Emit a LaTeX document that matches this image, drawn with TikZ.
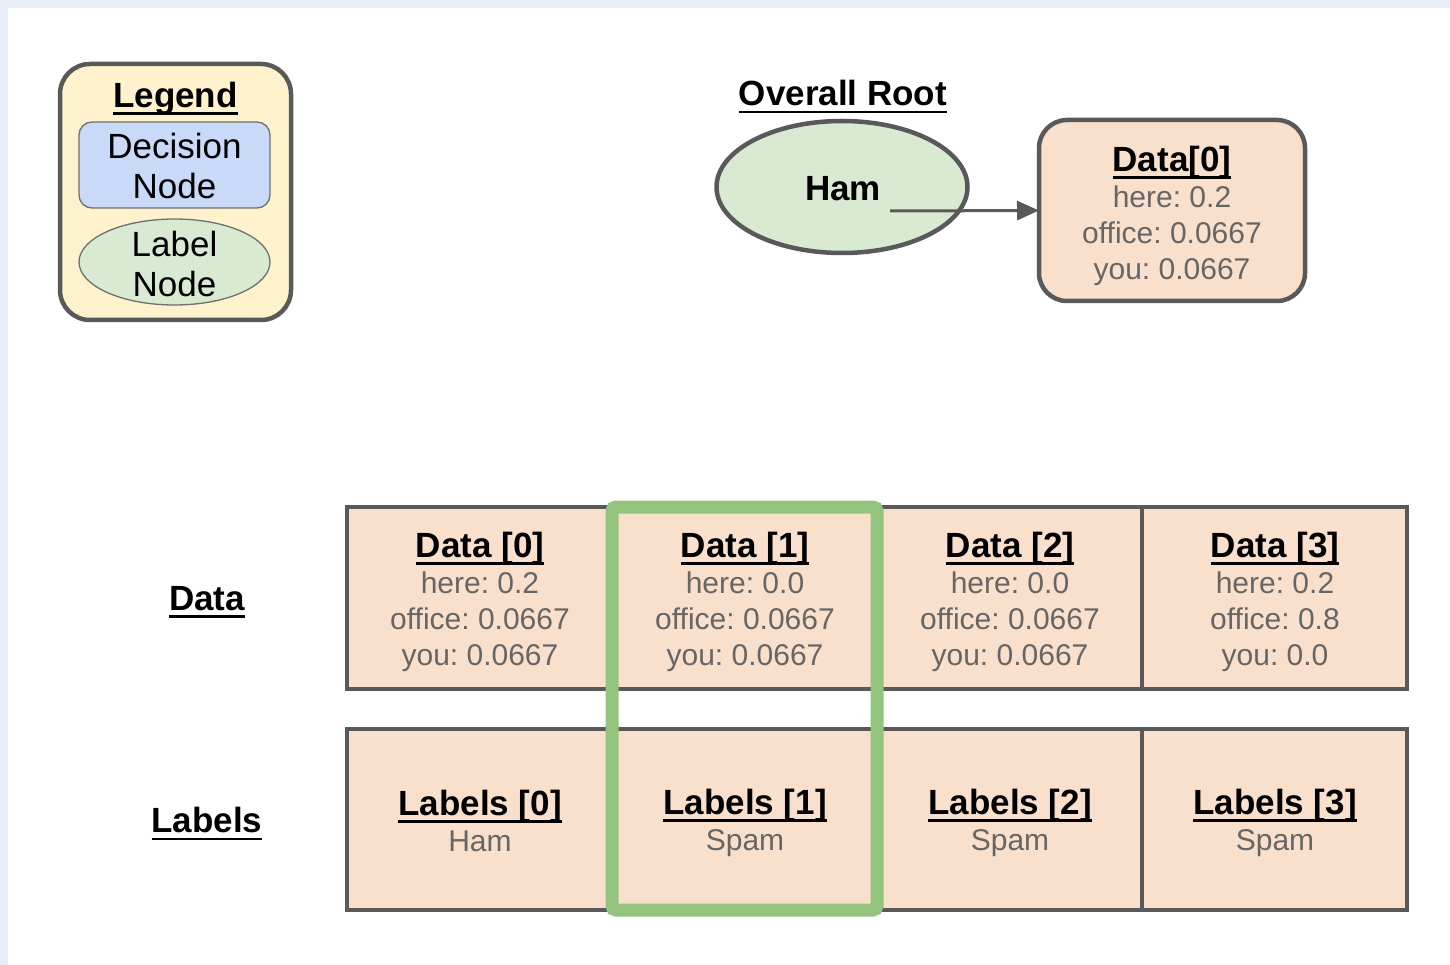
\documentclass[tikz,border=0pt]{standalone}
\usepackage{fontspec}
\setmainfont{Liberation Sans}
\usetikzlibrary{arrows.meta,fit,shapes.geometric}
\definecolor{edgegray}{HTML}{595959}
\definecolor{thingray}{HTML}{6F6F6F}
\definecolor{txtgray}{HTML}{666666}
\definecolor{peach}{HTML}{F9E0CD}
\definecolor{legendfill}{HTML}{FFF2CC}
\definecolor{decfill}{HTML}{C9DAF8}
\definecolor{labfill}{HTML}{D9EAD3}
\definecolor{hlgreen}{HTML}{93C47D}
\definecolor{bgblue}{HTML}{E8EEF8}
\frenchspacing
\newcommand\myul[1]{\leavevmode\setbox0=\hbox{#1}\rlap{\rule[-7.5pt]{\wd0}{2.7pt}}\box0}
\newcommand\titlefont{\fontsize{35}{36}\selectfont\bfseries}
\newcommand\valfont{\fontsize{30}{36}\selectfont}
\newcommand\legfont{\fontsize{35}{40}\selectfont}
\begin{document}
\begin{tikzpicture}[x=1pt,y=-1pt,
  every node/.style={inner sep=0pt, outer sep=0pt},
  cell/.style={draw=edgegray, line width=4.5pt, fill=peach, minimum width=265pt, minimum height=182pt},
  lcell/.style={cell, minimum height=181pt},
  celltext/.style={align=center, font=\valfont, text=txtgray},
  titletext/.style={font=\titlefont, text=black},
]
\useasboundingbox (0,0) rectangle (1450,965);
\fill[bgblue] (0,0) rectangle (1450,965);
\fill[white] (8,8) rectangle (1450,965);

% Legend
\node[draw=edgegray, line width=4.5pt, fill=legendfill, rounded corners=30pt,
      minimum width=231pt, minimum height=256pt] (legend) at (175.5,192) {};
\node[titletext] (legendt) at (175.5,98.5) {\myul{Legend}};
\node[draw=thingray, line width=1.3pt, fill=decfill, rounded corners=13pt,
      minimum width=191pt, minimum height=86pt] (decbox) at (174.5,165) {};
\node[align=center, font=\legfont] (dect) at (174.5,165.5) {Decision\\Node};
\node[draw=thingray, line width=1.3pt, fill=labfill, ellipse,
      minimum width=191pt, minimum height=86pt] (labell) at (174.5,262) {};
\node[align=center, font=\legfont] (labt) at (174.5,263.5) {Label\\Node};

% Overall root
\node[titletext] (roott) at (843,97) {\myul{Overall Root}};
\node[draw=edgegray, line width=4.5pt, fill=labfill, ellipse,
      minimum width=251pt, minimum height=132pt] (ham) at (842,187) {};
\node[titletext] (hamt) at (843,188.5) {Ham};
\node[draw=edgegray, line width=4.5pt, fill=peach, rounded corners=28pt,
      minimum width=266pt, minimum height=181pt] (root) at (1172,210.5) {};
\node[celltext] (rootdt) at (1172,216) {{\titlefont\color{black}\myul{Data[0]}}\\here: 0.2\\office: 0.0667\\you: 0.0667};
\coordinate (hs) at (890,211);
\draw[edgegray, line width=3pt, -{Triangle[length=22pt,width=19pt]}] (hs) -- (root.west);

% Row labels
\node[titletext] (datat) at (207,602) {\myul{Data}};
\node[titletext] (labelst) at (207,824) {\myul{Labels}};

% Data cells
\node[cell] (d0) at (479.5,598) {};
\node[cell] (d1) at (744.5,598) {};
\node[cell] (d2) at (1009.5,598) {};
\node[cell] (d3) at (1274.5,598) {};
\node[celltext] (d0t) at (480,602) {{\titlefont\color{black}\myul{Data [0]}}\\here: 0.2\\office: 0.0667\\you: 0.0667};
\node[celltext] (d1t) at (745,602) {{\titlefont\color{black}\myul{Data [1]}}\\here: 0.0\\office: 0.0667\\you: 0.0667};
\node[celltext] (d2t) at (1010,602) {{\titlefont\color{black}\myul{Data [2]}}\\here: 0.0\\office: 0.0667\\you: 0.0667};
\node[celltext] (d3t) at (1275,602) {{\titlefont\color{black}\myul{Data [3]}}\\here: 0.2\\office: 0.8\\you: 0.0};

% Label cells
\node[lcell] (l0) at (479.5,819.5) {};
\node[lcell] (l1) at (744.5,819.5) {};
\node[lcell] (l2) at (1009.5,819.5) {};
\node[lcell] (l3) at (1274.5,819.5) {};
\node[celltext] (l0t) at (480,820.5) {{\titlefont\color{black}\myul{Labels [0]}}\\Ham};
\node[celltext] (l1t) at (745,823) {{\titlefont\color{black}\myul{Labels [1]}}\\Spam};
\node[celltext] (l2t) at (1010,823) {{\titlefont\color{black}\myul{Labels [2]}}\\Spam};
\node[celltext] (l3t) at (1275,823) {{\titlefont\color{black}\myul{Labels [3]}}\\Spam};

% Highlight
\node[fit=(d1)(l1), inner sep=0pt, draw=hlgreen, line width=13pt, rounded corners=4pt] (hl) {};
\end{tikzpicture}
\end{document}
